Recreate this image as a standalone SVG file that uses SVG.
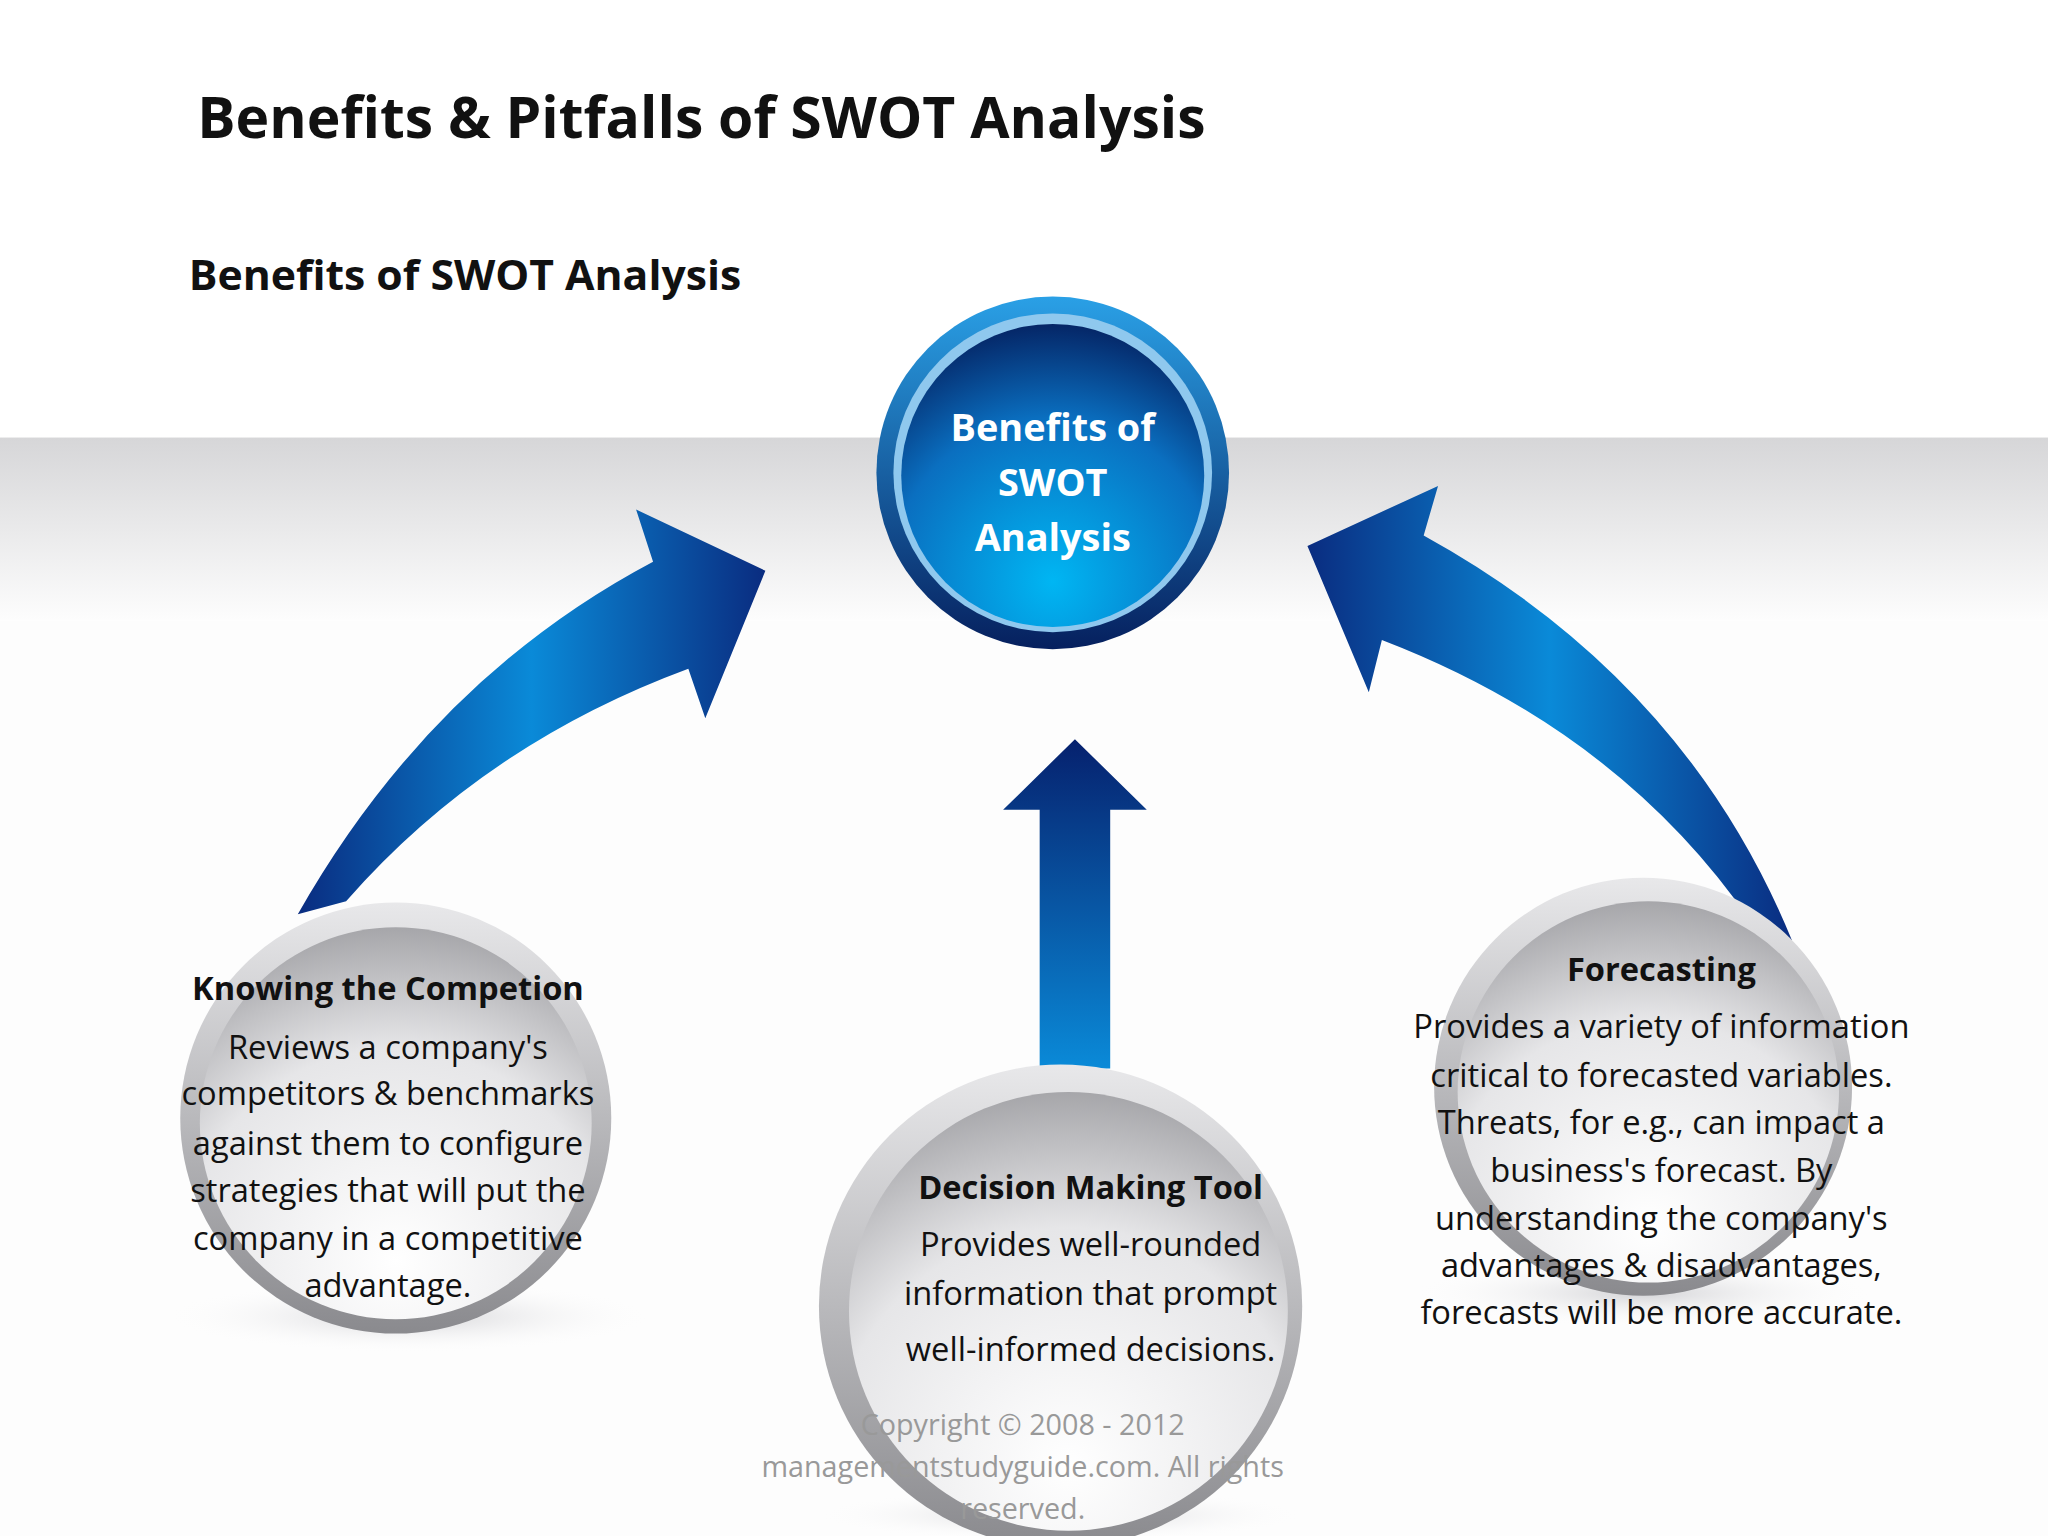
<svg xmlns="http://www.w3.org/2000/svg" width="2048" height="1536" viewBox="0 0 2048 1536">
<style>
text{font-family:"Open Sans","Liberation Sans",sans-serif;text-anchor:middle;fill:#111}
.b{font-weight:bold}
.body{font-size:25px}
.h{font-size:25px;font-weight:bold}
.cp{font-size:22px;fill:#999}
</style>
<defs>
<linearGradient id="band" x1="0" y1="0" x2="0" y2="1"><stop offset="0" stop-color="#d6d6d8"/><stop offset="1" stop-color="#fdfdfd"/></linearGradient>
<linearGradient id="blue" x1="0" y1="0" x2="1" y2="0"><stop offset="0" stop-color="#0a2c80"/><stop offset="0.5" stop-color="#0a8ad8"/><stop offset="1" stop-color="#0a2c80"/></linearGradient>
<linearGradient id="blueV" x1="0" y1="0" x2="0" y2="1"><stop offset="0" stop-color="#06216e"/><stop offset="1" stop-color="#0a8ad8"/></linearGradient>
<linearGradient id="ring" x1="0" y1="0" x2="0" y2="1"><stop offset="0" stop-color="#2aa0e6"/><stop offset="1" stop-color="#06205e"/></linearGradient>
<radialGradient id="core" cx="0.5" cy="0.85" r="0.9"><stop offset="0" stop-color="#00b6f3"/><stop offset="0.6" stop-color="#0a6fc0"/><stop offset="1" stop-color="#041a58"/></radialGradient>
<linearGradient id="gring" x1="0" y1="0" x2="0" y2="1"><stop offset="0" stop-color="#e8e8ea"/><stop offset="1" stop-color="#8a8a8e"/></linearGradient>
<radialGradient id="gcore" cx="0.5" cy="0.85" r="0.9"><stop offset="0" stop-color="#ffffff"/><stop offset="0.6" stop-color="#e6e6e8"/><stop offset="1" stop-color="#9c9ca0"/></radialGradient>
<radialGradient id="sh"><stop offset="0" stop-color="#c8c8cc" stop-opacity="0.8"/><stop offset="1" stop-color="#fff" stop-opacity="0"/></radialGradient>
</defs>
<rect width="2048" height="1536" fill="#fff"/>
<g transform="scale(1.30612)">
<rect x="0" y="335" width="1568" height="140" fill="url(#band)"/>
<rect x="0" y="475" width="1568" height="701" fill="#fdfdfd"/>
<text x="537" y="106" class="b" font-size="44" textLength="772" lengthAdjust="spacingAndGlyphs">Benefits &amp; Pitfalls of SWOT Analysis</text>
<text x="356" y="222" class="b" font-size="32" textLength="423" lengthAdjust="spacingAndGlyphs">Benefits of SWOT Analysis</text>
<g id="connectors">
<path d="M228,700 Q330,520 500,430 L487,390 L586,437 L540,550 L527,512 Q370,570 265,690 Z" fill="url(#blue)"/>
<path d="M1372,720 Q1290,520 1090,410 L1101,372 L1001,418 L1048,530 L1058,490 Q1240,560 1340,705 Z" fill="url(#blue)"/>
<path d="M796,818 L796,620 L768,620 L823,566 L878,620 L850,620 L850,818 Z" fill="url(#blueV)"/>
</g>
<g id="center">
<circle cx="806" cy="362" r="135" fill="url(#ring)"/>
<circle cx="806" cy="362" r="122" fill="#8fc8ee"/>
<circle cx="806" cy="364" r="116" fill="url(#core)"/>
<text x="806" y="338" class="b" font-size="29" fill="#fff" style="fill:#fff">Benefits of</text>
<text x="806" y="380" class="b" font-size="29" style="fill:#fff">SWOT</text>
<text x="806" y="422" class="b" font-size="29" style="fill:#fff">Analysis</text>
</g>
<g id="left">
<ellipse cx="313" cy="1008" rx="190" ry="28" fill="url(#sh)"/>
<circle cx="303" cy="856" r="165" fill="url(#gring)"/>
<circle cx="303" cy="860" r="150" fill="url(#gcore)"/>
<text x="297" y="766" class="h">Knowing the Competion</text>
<text class="body" x="297"><tspan x="297" y="811">Reviews a company's</tspan><tspan x="297" y="846">competitors &amp; benchmarks</tspan><tspan x="297" y="884">against them to configure</tspan><tspan x="297" y="920">strategies that will put the</tspan><tspan x="297" y="957">company in a competitive</tspan><tspan x="297" y="993">advantage.</tspan></text>
</g>
<g id="middle">
<ellipse cx="812" cy="1160" rx="190" ry="20" fill="url(#sh)"/>
<circle cx="812" cy="1000" r="185" fill="url(#gring)"/>
<circle cx="818" cy="1004" r="168" fill="url(#gcore)"/>
<text x="835" y="918" class="h">Decision Making Tool</text>
<text class="body"><tspan x="835" y="962">Provides well-rounded</tspan><tspan x="835" y="999">information that prompt</tspan><tspan x="835" y="1042">well-informed decisions.</tspan></text>
<text class="cp"><tspan x="783" y="1099">Copyright © 2008 - 2012</tspan><tspan x="783" y="1131">managementstudyguide.com. All rights</tspan><tspan x="783" y="1163">reserved.</tspan></text>
</g>
<g id="right">
<ellipse cx="1258" cy="990" rx="180" ry="26" fill="url(#sh)"/>
<circle cx="1258" cy="832" r="160" fill="url(#gring)"/>
<circle cx="1262" cy="836" r="146" fill="url(#gcore)"/>
<text x="1272" y="751" class="h">Forecasting</text>
<text class="body"><tspan x="1272" y="795">Provides a variety of information</tspan><tspan x="1272" y="832">critical to forecasted variables.</tspan><tspan x="1272" y="868">Threats, for e.g., can impact a</tspan><tspan x="1272" y="905">business's forecast. By</tspan><tspan x="1272" y="942">understanding the company's</tspan><tspan x="1272" y="978">advantages &amp; disadvantages,</tspan><tspan x="1272" y="1014">forecasts will be more accurate.</tspan></text>
</g>
</g>
</svg>
